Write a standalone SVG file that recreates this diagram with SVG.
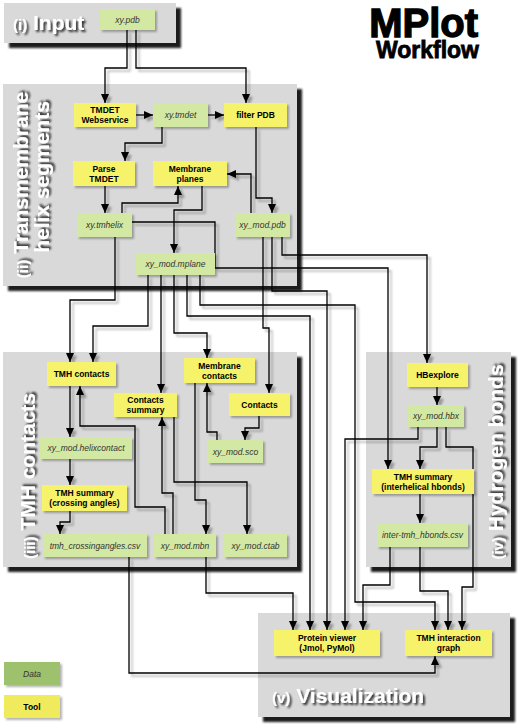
<svg xmlns="http://www.w3.org/2000/svg" width="520" height="728" viewBox="0 0 520 728">
<defs>
<style>
.panel{fill:#d9d9d9}
.psh{fill:#1c1c1c;filter:url(#pblur)}
.data{fill:#d3e8a2;filter:url(#nsh)}
.tool{fill:#f6f26b;filter:url(#nsh)}
.tl{font-family:"Liberation Sans",Arial,sans-serif;font-weight:bold;font-size:8.5px;text-anchor:middle;fill:#000}
.dl{font-family:"Liberation Sans",Arial,sans-serif;font-style:italic;font-size:8.5px;text-anchor:middle;fill:#333}
.pl{font-family:"Liberation Sans",Arial,sans-serif;font-weight:bold;font-size:21px;fill:#fff;filter:url(#tsh)}
.pl .sm{font-size:15px}
.title{font-family:"Liberation Sans",Arial,sans-serif;font-weight:bold;fill:#000;stroke:#000;text-anchor:end}
#connectors path{fill:none;stroke:#000;stroke-width:1.3}
.ar{marker-end:url(#arr)}
</style>
<marker id="arr" markerUnits="userSpaceOnUse" viewBox="0 0 9 8" markerWidth="9" markerHeight="8" refX="9" refY="4" orient="auto">
<path d="M0,0 L9,4 L0,8 z" fill="#000"/>
</marker>
<filter id="pblur" x="-5%" y="-5%" width="110%" height="110%"><feGaussianBlur stdDeviation="1"/></filter>
<filter id="nsh" x="-10%" y="-10%" width="130%" height="140%">
<feGaussianBlur in="SourceAlpha" stdDeviation="1.2"/><feOffset dx="2" dy="2"/>
<feComponentTransfer><feFuncA type="linear" slope="0.3"/></feComponentTransfer>
<feMerge><feMergeNode/><feMergeNode in="SourceGraphic"/></feMerge>
</filter>
<filter id="tsh" x="-10%" y="-20%" width="130%" height="150%">
<feGaussianBlur in="SourceAlpha" stdDeviation="1"/><feOffset dx="2" dy="2"/>
<feComponentTransfer><feFuncA type="linear" slope="0.8"/></feComponentTransfer>
<feMerge><feMergeNode/><feMergeNode in="SourceGraphic"/></feMerge>
</filter>
<filter id="lsh" filterUnits="userSpaceOnUse" x="0" y="0" width="520" height="728">
<feGaussianBlur in="SourceAlpha" stdDeviation="0.9"/><feOffset dx="2.5" dy="2.5"/>
<feComponentTransfer><feFuncA type="linear" slope="0.3"/></feComponentTransfer>
<feMerge><feMergeNode/><feMergeNode in="SourceGraphic"/></feMerge>
</filter>
</defs>

<g id="panels">
<g id="panel-input"><rect class="psh" x="9" y="8" width="172" height="40"/><rect class="panel" x="4" y="3" width="172" height="40"/>
<text class="pl" x="13" y="30" font-size="19"><tspan class="sm">(i)</tspan> Input</text></g>
<g id="panel-tm"><rect class="psh" x="8" y="89" width="294" height="202"/><rect class="panel" x="3" y="84" width="294" height="202"/>
<text class="pl" transform="translate(28,185) rotate(-90)" text-anchor="middle"><tspan class="sm">(ii)</tspan> Transmembrane</text>
<text class="pl" transform="translate(49,177) rotate(-90)" text-anchor="middle">helix segments</text></g>
<g id="panel-tmh"><rect class="psh" x="8" y="357" width="294" height="215"/><rect class="panel" x="3" y="352" width="294" height="215"/>
<text class="pl" transform="translate(35,476) rotate(-90)" text-anchor="middle"><tspan class="sm">(iii)</tspan> TMH contacts</text></g>
<g id="panel-hb"><rect class="psh" x="371" y="357" width="145" height="215"/><rect class="panel" x="366" y="352" width="145" height="215"/>
<text class="pl" transform="translate(503,462) rotate(-90)" text-anchor="middle"><tspan class="sm">(iv)</tspan> Hydrogen bonds</text></g>
<g id="panel-vis"><rect class="psh" x="263" y="618" width="252" height="104"/><rect class="panel" x="258" y="613" width="252" height="104"/>
<text class="pl" x="272" y="703"><tspan class="sm">(v)</tspan> Visualization</text></g>
</g>

<g id="title">
<text class="title" x="478" y="37" font-size="40" stroke-width="1.3">MPlot</text>
<text class="title" x="479" y="58" font-size="23" stroke-width="0.8">Workflow</text>
</g>

<g id="connectors" filter="url(#lsh)">
<path class="ar" d="M127,30 V68 H105 V103"/>
<path class="ar" d="M136,30 V68 H246 V103"/>
<path class="ar" d="M136,115 H153"/>
<path class="ar" d="M208,115 H224"/>
<path class="ar" d="M162,127 V143 H125 V161"/>
<path class="ar" d="M256,127 V198 H272 V213"/>
<path class="ar" d="M251,213 V174 H227"/>
<path class="ar" d="M105,186 V213"/>
<path class="ar" d="M122,213 V203 H178 V186"/>
<path class="ar" d="M202,186 V210 H174 V253"/>
<path class="ar" d="M132,222 H215 V268 H388 V469"/>
<path class="ar" d="M115,237 V300 H70 V362"/>
<path class="ar" d="M148,275 V326 H93 V362"/>
<path class="ar" d="M161,275 V393"/>
<path class="ar" d="M174,275 V333 H207 V358"/>
<path class="ar" d="M187,275 V316 H310 V630"/>
<path class="ar" d="M200,275 V305 H355 V602 H435 V630"/>
<path class="ar" d="M263,237 V328 H269 V393"/>
<path class="ar" d="M272,237 V291 H327 V630"/>
<path class="ar" d="M282,237 V255 H427 V363"/>
<path class="ar" d="M70,386 V437"/>
<path class="ar" d="M165,534 V507 H135 V426 H80 V386"/>
<path class="ar" d="M70,459 V485"/>
<path class="ar" d="M70,511 V522 H60 V534"/>
<path class="ar" d="M173,534 V493 H162 V417"/>
<path class="ar" d="M174,417 V482 H247 V534"/>
<path class="ar" d="M195,383 V500 H206 V534"/>
<path class="ar" d="M217,440 V432 H207 V383"/>
<path class="ar" d="M259,416 V428 H245 V440"/>
<path class="ar" d="M437,387 V405"/>
<path class="ar" d="M418,427 V439 H345 V630"/>
<path class="ar" d="M437,427 V447 H420 V469"/>
<path class="ar" d="M446,427 V447 H473 V587 H462 V630"/>
<path class="ar" d="M420,494 V523"/>
<path class="ar" d="M390,547 V585 H363 V630"/>
<path class="ar" d="M420,547 V591 H448 V630"/>
<path class="ar" d="M206,557 V593 H293 V630"/>
<path class="ar" d="M129,557 V673 H435 V656"/>
</g>

<g id="n-xypdb"><rect class="data" x="100" y="9" width="55" height="21"/><text class="dl" x="127.5" y="22.5">xy.pdb</text></g>
<g id="n-tmdetws"><rect class="tool" x="74" y="103" width="62" height="24"/><text class="tl" x="105" y="113">TMDET</text><text class="tl" x="105" y="123">Webservice</text></g>
<g id="n-xytmdet"><rect class="data" x="153" y="103" width="55" height="24"/><text class="dl" x="180.5" y="118">xy.tmdet</text></g>
<g id="n-filter"><rect class="tool" x="224" y="103" width="63" height="24"/><text class="tl" x="255.5" y="118">filter PDB</text></g>
<g id="n-parse"><rect class="tool" x="73" y="161" width="62" height="25"/><text class="tl" x="104" y="171.5">Parse</text><text class="tl" x="104" y="181.5">TMDET</text></g>
<g id="n-mplanes"><rect class="tool" x="153" y="161" width="74" height="25"/><text class="tl" x="190" y="171.5">Membrane</text><text class="tl" x="190" y="181.5">planes</text></g>
<g id="n-tmhelix"><rect class="data" x="77" y="213" width="55" height="24"/><text class="dl" x="104.5" y="228">xy.tmhelix</text></g>
<g id="n-modpdb"><rect class="data" x="235" y="213" width="55" height="24"/><text class="dl" x="262.5" y="228">xy_mod.pdb</text></g>
<g id="n-mplane"><rect class="data" x="136" y="253" width="79" height="22"/><text class="dl" x="175.5" y="267">xy_mod.mplane</text></g>
<g id="n-tmhcontacts"><rect class="tool" x="47" y="362" width="69" height="24"/><text class="tl" x="81.5" y="377">TMH contacts</text></g>
<g id="n-memcontacts"><rect class="tool" x="184" y="358" width="71" height="25"/><text class="tl" x="219.5" y="368.5">Membrane</text><text class="tl" x="219.5" y="378.5">contacts</text></g>
<g id="n-csummary"><rect class="tool" x="114" y="393" width="63" height="24"/><text class="tl" x="145.5" y="403">Contacts</text><text class="tl" x="145.5" y="413">summary</text></g>
<g id="n-contacts"><rect class="tool" x="229" y="393" width="61" height="23"/><text class="tl" x="259.5" y="407.5">Contacts</text></g>
<g id="n-helixcontact"><rect class="data" x="40" y="437" width="92" height="22"/><text class="dl" x="86" y="451">xy_mod.helixcontact</text></g>
<g id="n-sco"><rect class="data" x="208" y="440" width="55" height="23"/><text class="dl" x="235.5" y="454.5">xy_mod.sco</text></g>
<g id="n-tmhsumca"><rect class="tool" x="42" y="485" width="85" height="26"/><text class="tl" x="84.5" y="496">TMH summary</text><text class="tl" x="84.5" y="506">(crossing angles)</text></g>
<g id="n-crossing"><rect class="data" x="43" y="534" width="104" height="23"/><text class="dl" x="95" y="548.5">tmh_crossingangles.csv</text></g>
<g id="n-mbn"><rect class="data" x="154" y="534" width="62" height="23"/><text class="dl" x="185" y="548.5">xy_mod.mbn</text></g>
<g id="n-ctab"><rect class="data" x="224" y="534" width="63" height="23"/><text class="dl" x="255.5" y="548.5">xy_mod.ctab</text></g>
<g id="n-hbexplore"><rect class="tool" x="407" y="363" width="61" height="24"/><text class="tl" x="437.5" y="378">HBexplore</text></g>
<g id="n-hbx"><rect class="data" x="408" y="405" width="56" height="22"/><text class="dl" x="436" y="419">xy_mod.hbx</text></g>
<g id="n-tmhsumhb"><rect class="tool" x="372" y="469" width="102" height="25"/><text class="tl" x="423" y="479.5">TMH summary</text><text class="tl" x="423" y="489.5">(interhelical hbonds)</text></g>
<g id="n-hbcsv"><rect class="data" x="377" y="523" width="91" height="24"/><text class="dl" x="422.5" y="538">inter-tmh_hbonds.csv</text></g>
<g id="n-viewer"><rect class="tool" x="274" y="630" width="106" height="26"/><text class="tl" x="327" y="641">Protein viewer</text><text class="tl" x="327" y="651">(Jmol, PyMol)</text></g>
<g id="n-graph"><rect class="tool" x="405" y="630" width="87" height="26"/><text class="tl" x="448.5" y="641">TMH interaction</text><text class="tl" x="448.5" y="651">graph</text></g>

<g id="legend">
<g id="legend-data"><rect x="4" y="662" width="56" height="23" fill="#9dc16c" filter="url(#nsh)"/><text class="dl" x="32" y="676.5">Data</text></g>
<g id="legend-tool"><rect x="4" y="695" width="56" height="23" fill="#efeb5c" filter="url(#nsh)"/><text class="tl" x="32" y="709.5">Tool</text></g>
</g>
</svg>
